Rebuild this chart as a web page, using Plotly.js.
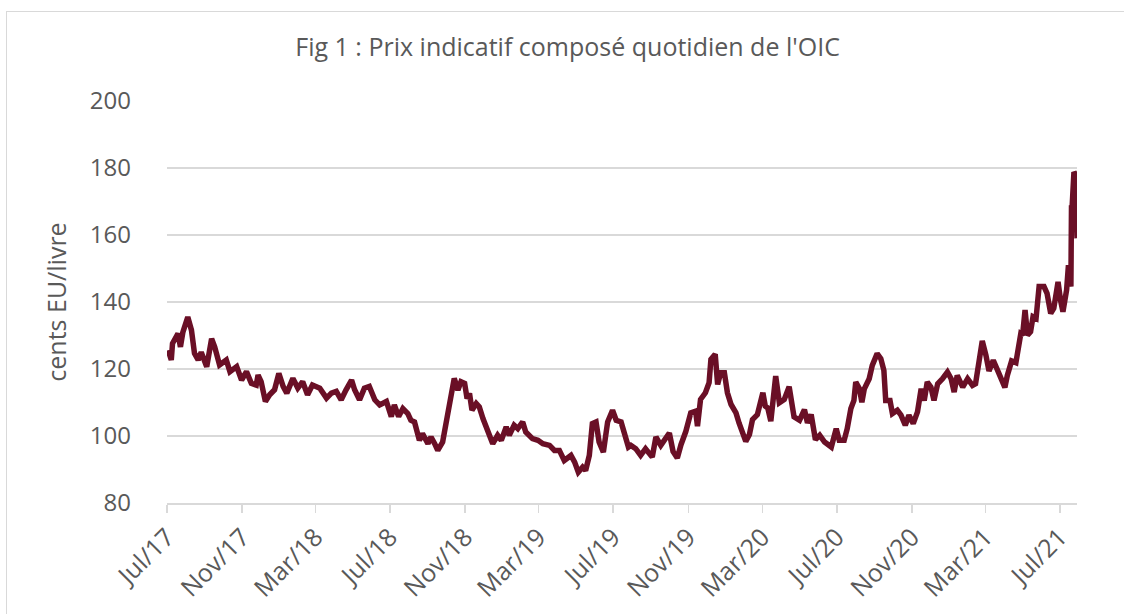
<!DOCTYPE html>
<html>
<head>
<meta charset="utf-8">
<script src="https://cdn.plot.ly/plotly-3.0.1.min.js"></script>
<style>
  html, body { margin: 0; padding: 0; background: #ffffff; }
  #frame { position: absolute; left: 6px; top: 11px; width: 1130px; height: 620px;
           border-left: 1.5px solid #d9d9d9; border-top: 1.5px solid #d9d9d9; }
  #chart { position: absolute; left: 0; top: 0; width: 1124px; height: 614px; }
</style>
</head>
<body>
<div id="frame"></div>
<div id="chart"></div>
<script>
// Dates of readings (ICO composite indicator price, daily)
const dates = [
  '2017-07-03','2017-07-08','2017-07-10','2017-07-19','2017-07-23','2017-07-27','2017-08-04','2017-08-10','2017-08-15','2017-08-21',
  '2017-08-26','2017-09-04','2017-09-12','2017-09-17','2017-09-25','2017-10-06','2017-10-12','2017-10-23','2017-10-31','2017-11-08',
  '2017-11-16','2017-11-24','2017-11-27','2017-12-02','2017-12-09','2017-12-16','2017-12-24','2017-12-31','2018-01-07','2018-01-13',
  '2018-01-23','2018-01-31','2018-02-08','2018-02-16','2018-02-24','2018-03-08','2018-03-19','2018-03-27','2018-04-04','2018-04-12',
  '2018-04-20','2018-04-29','2018-05-04','2018-05-12','2018-05-20','2018-05-28','2018-06-06','2018-06-14','2018-06-25','2018-07-03',
  '2018-07-08','2018-07-15','2018-07-22','2018-07-30','2018-08-04','2018-08-10','2018-08-18','2018-08-23','2018-09-01','2018-09-06',
  '2018-09-12','2018-09-17','2018-09-25','2018-09-28','2018-10-06','2018-10-14','2018-10-20','2018-10-25','2018-10-31','2018-11-04',
  '2018-11-08','2018-11-12','2018-11-19','2018-11-24','2018-11-30','2018-12-08','2018-12-16','2018-12-24','2018-12-30','2019-01-07',
  '2019-01-12','2019-01-20','2019-01-26','2019-02-03','2019-02-08','2019-02-19','2019-02-28','2019-03-08','2019-03-19','2019-03-27',
  '2019-04-04','2019-04-12','2019-04-23','2019-04-29','2019-05-05','2019-05-12','2019-05-17','2019-05-23','2019-05-28','2019-06-03',
  '2019-06-08','2019-06-15','2019-06-22','2019-06-30','2019-07-06','2019-07-14','2019-07-22','2019-07-26','2019-07-30','2019-08-07',
  '2019-08-15','2019-08-23','2019-09-03','2019-09-09','2019-09-17','2019-10-01','2019-10-07','2019-10-14','2019-10-20','2019-10-28',
  '2019-11-05','2019-11-13','2019-11-16','2019-11-21','2019-11-29','2019-12-05','2019-12-08','2019-12-15','2019-12-19','2019-12-24',
  '2019-12-30','2020-01-04','2020-01-10','2020-01-18','2020-01-23','2020-02-03','2020-02-09','2020-02-14','2020-02-22','2020-03-02',
  '2020-03-06','2020-03-10','2020-03-15','2020-03-18','2020-03-23','2020-03-29','2020-04-06','2020-04-14','2020-04-22','2020-05-01',
  '2020-05-09','2020-05-14','2020-05-20','2020-05-27','2020-06-03','2020-06-11','2020-06-22','2020-06-30','2020-07-05','2020-07-13',
  '2020-07-18','2020-07-24','2020-07-29','2020-08-01','2020-08-07','2020-08-11','2020-08-15','2020-08-23','2020-08-28','2020-09-05',
  '2020-09-11','2020-09-16','2020-09-19','2020-09-26','2020-09-30','2020-10-08','2020-10-14','2020-10-21','2020-10-27','2020-11-03',
  '2020-11-10','2020-11-16','2020-11-21','2020-11-26','2020-12-02','2020-12-07','2020-12-13','2020-12-21','2020-12-29','2021-01-04',
  '2021-01-09','2021-01-14','2021-01-23','2021-01-31','2021-02-08','2021-02-13','2021-02-19','2021-02-24','2021-03-02','2021-03-07',
  '2021-03-14','2021-03-21','2021-03-28','2021-04-02','2021-04-06','2021-04-13','2021-04-20','2021-04-24','2021-04-28','2021-05-01',
  '2021-05-05','2021-05-09','2021-05-14','2021-05-18','2021-05-23','2021-05-28','2021-06-05','2021-06-10','2021-06-16','2021-06-21',
  '2021-06-28','2021-07-02','2021-07-06','2021-07-12','2021-07-15','2021-07-19','2021-07-20','2021-07-21','2021-07-24','2021-07-27',
  '2021-07-28','2021-07-29'
];
// Price, US cents per lb
const prices = [
  125.6,122.7,127.6,130.6,126.6,131.0,135.5,131.6,124.7,122.7,
  125.0,120.7,129.0,126.6,121.2,122.7,119.2,120.7,116.7,119.2,
  115.7,115.2,118.2,116.2,110.3,112.3,113.8,118.7,114.8,112.8,
  117.2,114.3,116.2,112.3,115.2,114.3,111.3,112.8,113.3,110.8,
  113.8,116.7,113.8,110.8,114.3,114.8,110.8,109.3,110.3,105.8,
  109.3,105.8,108.2,106.7,104.7,104.2,98.7,100.7,97.7,99.7,
  97.7,95.7,98.2,101.2,109.7,117.2,113.7,116.2,115.7,111.2,
  112.7,107.7,109.7,108.7,105.2,101.7,97.7,100.2,98.7,102.7,
  100.2,103.2,102.2,104.2,101.2,99.2,98.7,97.7,97.2,95.7,
  95.7,92.7,94.2,92.2,89.2,90.7,89.7,94.2,103.7,104.2,
  98.2,95.2,104.2,107.7,104.7,104.2,99.7,96.7,97.2,96.2,
  94.2,96.2,93.7,99.7,97.2,100.9,95.4,93.4,97.4,101.4,
  106.9,107.4,102.9,110.9,112.9,115.9,122.9,124.4,115.4,118.9,
  118.9,112.9,109.4,106.9,103.9,98.4,100.4,104.9,106.4,112.9,
  108.9,108.4,104.4,111.4,117.9,109.9,110.9,114.7,105.7,104.7,
  107.9,103.9,106.4,98.9,100.2,98.2,96.7,102.2,98.7,98.7,
  102.2,108.2,110.6,116.1,114.1,110.1,114.1,117.1,121.1,124.6,
  123.1,119.6,110.6,110.6,106.7,107.7,106.2,103.2,106.2,103.7,
  107.2,114.1,110.6,116.1,114.6,110.6,115.6,117.1,119.1,117.1,
  113.1,118.1,114.6,117.1,115.1,115.6,123.1,128.4,124.1,119.4,
  122.6,119.4,117.2,114.5,118.1,122.4,121.9,126.6,130.5,130.1,
  137.6,130.1,131.1,135.6,135.1,144.6,144.6,142.6,136.6,138.1,
  146.0,140.6,137.1,143.6,151.0,144.6,168.9,168.4,178.8,177.9,
  165.4,159.0
];
const tickDates = ['2017-07-01','2017-11-01','2018-03-01','2018-07-01','2018-11-01','2019-03-01','2019-07-01',
                   '2019-11-01','2020-03-01','2020-07-01','2020-11-01','2021-03-01','2021-07-01'];
const tickLabels = ['Jul/17','Nov/17','Mar/18','Jul/18','Nov/18','Mar/19','Jul/19',
                    'Nov/19','Mar/20','Jul/20','Nov/20','Mar/21','Jul/21'];
const yTicks = [80, 100, 120, 140, 160, 180, 200];

const trace = {
  x: dates, y: prices, type: 'scatter', mode: 'lines',
  line: { color: '#6a0f26', width: 5.5 },
  hoverinfo: 'x+y'
};

const font = 'Open Sans, sans-serif';
const layout = {
  width: 1124, height: 614,
  margin: { l: 167, r: 47, t: 101, b: 111, pad: 0 },
  paper_bgcolor: 'rgba(0,0,0,0)',
  plot_bgcolor: 'rgba(0,0,0,0)',
  showlegend: false,
  title: {
    text: "Fig 1 : Prix indicatif composé quotidien de l'OIC",
    font: { family: font, size: 25, color: '#595959' },
    x: 0.505, xref: 'container', xanchor: 'center',
    y: 1 - 47 / 614, yref: 'container', yanchor: 'middle'
  },
  xaxis: {
    type: 'date',
    range: ['2017-07-01', '2021-07-29'],
    tickmode: 'array', tickvals: tickDates, ticktext: tickLabels,
    tickangle: -45,
    tickfont: { family: font, size: 25, color: '#595959' },
    ticks: 'outside', ticklen: 8, tickwidth: 1.5, tickcolor: '#d9d9d9',
    showline: true, linecolor: '#d9d9d9', linewidth: 1.5,
    showgrid: false, zeroline: false, automargin: false
  },
  yaxis: {
    range: [80, 200],
    tickmode: 'array', tickvals: yTicks, ticktext: yTicks.map(String),
    tickfont: { family: font, size: 24, color: '#595959' },
    ticklabelstandoff: 35,
    showgrid: true, gridcolor: '#d9d9d9', gridwidth: 1.5,
    showline: false, zeroline: false, ticks: '', automargin: false,
    title: { text: 'cents EU/livre', standoff: 16,
             font: { family: font, size: 25, color: '#595959' } }
  }
};

Plotly.newPlot('chart', [trace], layout, { displayModeBar: false, staticPlot: true });
</script>
</body>
</html>
